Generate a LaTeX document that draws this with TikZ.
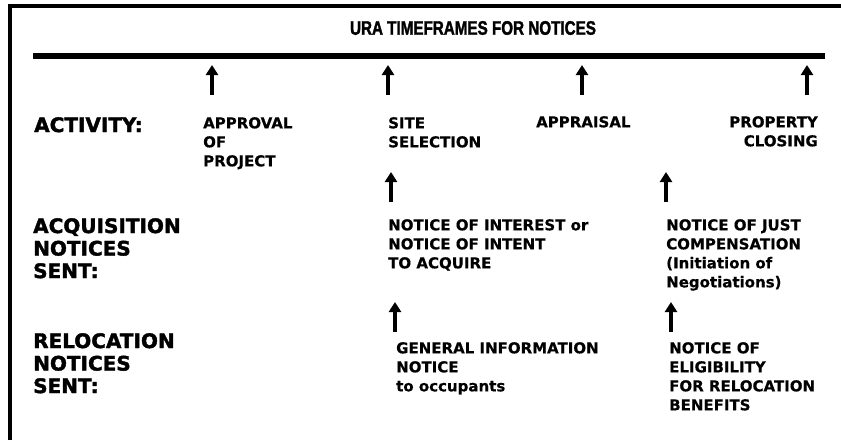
\documentclass[tikz,border=0pt]{standalone}
\usepackage{fontspec}
\setmainfont{DejaVu Sans}[BoldFeatures={FakeBold=0.5}]
\newfontfamily\titlefont[FakeBold=2]{Liberation Sans Bold}
\newfontfamily\rowfont[FakeBold=1.8]{DejaVu Sans Bold}
\newcommand{\titletext}[1]{{\titlefont\fontsize{19.5}{20}\selectfont\scalebox{0.78}[1]{#1}}}
\usetikzlibrary{arrows.meta}

\begin{document}
\begin{tikzpicture}
  [x=1pt, y=-1pt]
  \tikzset{rowlabel/.style={anchor=north west, inner sep=0pt, align=left,
      font=\rowfont\fontsize{20}{22.5}\selectfont}}
  \tikzset{steplabel/.style={anchor=north west, inner sep=0pt, align=left,
      font=\fontsize{15}{19}\selectfont\bfseries}}
  \tikzset{uparrow/.style={line width=4.5pt, -{Triangle[width=12pt,length=10pt]}}}

  \useasboundingbox (0,0) rectangle (841,440);

  % frame and title
  \draw[line width=4pt] (9.5,440) -- (9.5,5.5) -- (841,5.5);
  \node (title) at (473,28) {\titletext{URA TIMEFRAMES FOR NOTICES}};

  % time line
  \coordinate (barstart) at (33,56);
  \coordinate (barend) at (825,56);
  \draw[line width=6pt] (barstart) -- (barend);

  % row labels
  \node[rowlabel] (activity) at (34,117) {ACTIVITY:};
  \node[rowlabel] (acquisition) at (33,218) {ACQUISITION\\NOTICES\\SENT:};
  \node[rowlabel] (relocation) at (33,333) {RELOCATION\\NOTICES\\SENT:};

  % activities
  \node[steplabel] (approval) at (203,117) {APPROVAL\\OF\\PROJECT};
  \node[steplabel] (site) at (388,117) {SITE\\SELECTION};
  \node[steplabel] (appraisal) at (536,116) {APPRAISAL};
  \node[steplabel, anchor=north east, align=right] (closing) at (818,116) {PROPERTY\\CLOSING};

  % acquisition notices
  \node[steplabel] (interest) at (388,219) {NOTICE OF INTEREST or\\NOTICE OF INTENT\\TO ACQUIRE};
  \node[steplabel] (justcomp) at (666,219) {NOTICE OF JUST\\COMPENSATION\\(Initiation of\\Negotiations)};

  % relocation notices
  \node[steplabel] (geninfo) at (396,342) {GENERAL INFORMATION\\NOTICE\\to occupants};
  \node[steplabel] (eligibility) at (669,342) {NOTICE OF\\ELIGIBILITY\\FOR RELOCATION\\BENEFITS};

  % arrows
  \coordinate (a1) at (212,95);
  \coordinate (a2) at (388,95);
  \coordinate (a3) at (582,95);
  \coordinate (a4) at (807,95);
  \coordinate (b1) at (391,202);
  \coordinate (b2) at (666,202);
  \coordinate (c1) at (395,332);
  \coordinate (c2) at (671,332);
  \foreach \p in {a1,a2,a3,a4,b1,b2,c1,c2}
    \draw[uparrow] (\p) -- ++(0,-30);

\end{tikzpicture}
\end{document}
